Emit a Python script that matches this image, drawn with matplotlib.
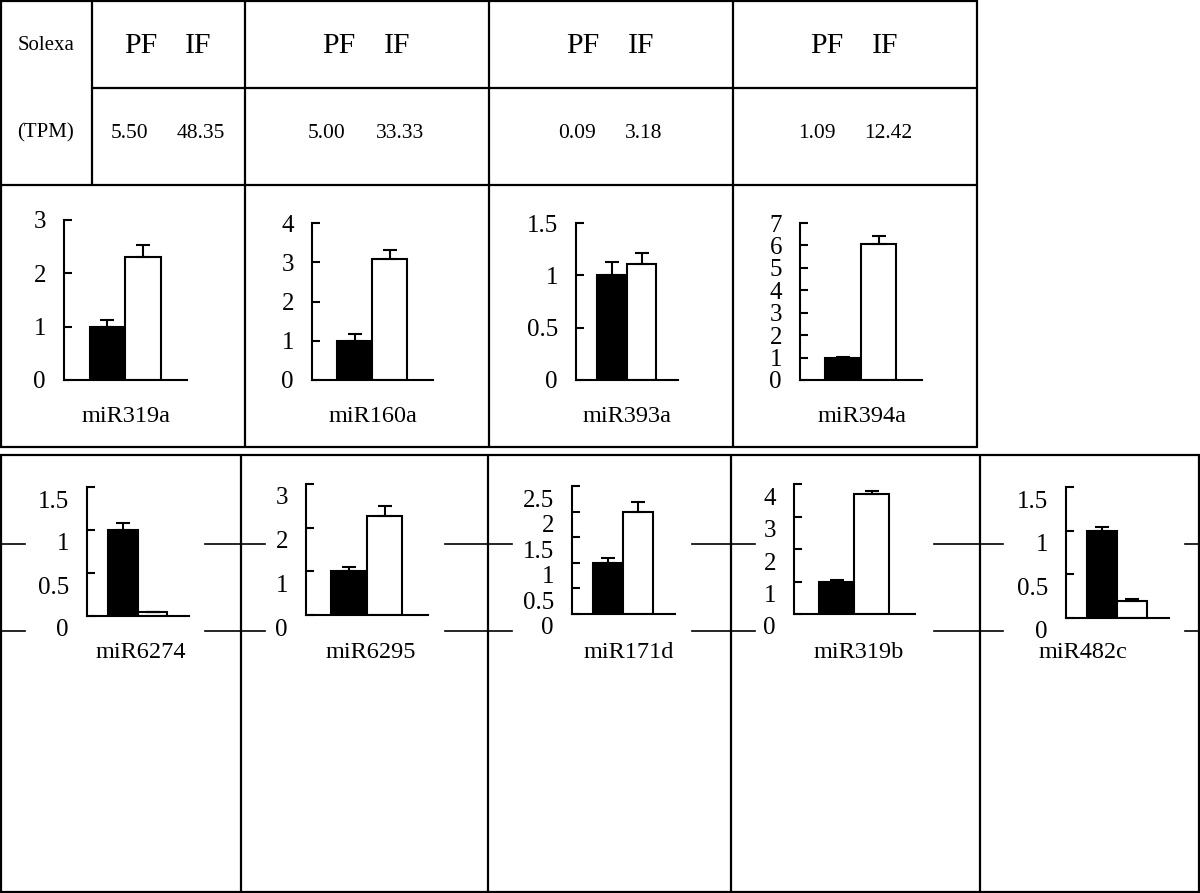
import matplotlib.pyplot as plt
from matplotlib.transforms import ScaledTranslation

plt.rcParams['font.family'] = ['Liberation Serif', 'DejaVu Serif']

# Solexa header (TPM)
tpm_pf = ['5.50', '5.00', '0.09', '1.09']
tpm_if = ['48.35', '33.33', '3.18', '12.42']

# qRT-PCR, top row
top_genes = ['miR319a', 'miR160a', 'miR393a', 'miR394a']
top_pf = [1.0, 1.0, 1.0, 1.0]
top_if = [2.31, 3.08, 1.11, 6.05]
top_pf_err = [0.12, 0.17, 0.13, 0.02]
top_if_err = [0.22, 0.23, 0.10, 0.37]
top_ticks = [[0, 1, 2, 3], [0, 1, 2, 3, 4], [0, 0.5, 1, 1.5],
             [0, 1, 2, 3, 4, 5, 6, 7]]

# qRT-PCR, bottom row
bot_genes = ['miR6274', 'miR6295', 'miR171d', 'miR319b', 'miR482c']
bot_pf = [1.0, 1.0, 1.0, 1.0, 1.0]
bot_if = [0.05, 2.27, 2.0, 3.69, 0.2]
bot_pf_err = [0.08, 0.10, 0.10, 0.05, 0.04]
bot_if_err = [0.0, 0.22, 0.18, 0.10, 0.02]
bot_ticks = [[0, 0.5, 1, 1.5], [0, 1, 2, 3], [0, 0.5, 1, 1.5, 2, 2.5],
             [0, 1, 2, 3, 4], [0, 0.5, 1, 1.5]]

W, H = 1200, 893
fig = plt.figure(figsize=(W / 100, H / 100), dpi=100)

bg = fig.add_axes([0, 0, 1, 1])
bg.set_xlim(0, W)
bg.set_ylim(H, 0)
bg.axis('off')

lw = 1.6
kw = dict(color='black', lw=lw, clip_on=False)

# top table frame
bg.hlines([1, 185, 447], 0, 978, **kw)
bg.hlines(88, 92, 978, **kw)
bg.vlines([1, 245, 489, 733, 977], 0, 447, **kw)
bg.vlines(92, 0, 185, **kw)

# bottom table frame
bg.hlines([455, 892], 0, W, **kw)
bg.vlines([1, 241, 488, 731, 980, 1199], 455, 892, **kw)
for y in [544, 631]:
    for x0, x1 in [(0, 25), (205, 265), (445, 512), (692, 755),
                   (934, 1003), (1185, 1200)]:
        bg.plot([x0, x1], [y, y], color='black', lw=1.2)

# header text
bg.text(46, 46, 'Solexa', fontsize=15, ha='center', va='center')
bg.text(46, 133, '(TPM)', fontsize=15, ha='center', va='center')
pf_x = [141, 339, 583, 827]
if_x = [198, 397, 641, 885]
pfv_x = [129, 327, 577, 817]
ifv_x = [201, 400, 644, 888]
for i in range(4):
    bg.text(pf_x[i], 46, 'PF', fontsize=21.5, ha='center', va='center')
    bg.text(if_x[i], 46, 'IF', fontsize=21.5, ha='center', va='center')
    bg.text(pfv_x[i], 133, tpm_pf[i], fontsize=15.5, ha='center', va='center')
    bg.text(ifv_x[i], 133, tpm_if[i], fontsize=15.5, ha='center', va='center')


def panel(box, pf, iferr, ifv, pferr, ticks, shift=0):
    x0, x1, ytop, y0 = box
    ax = fig.add_axes([x0 / W, 1 - y0 / H, (x1 - x0) / W, (y0 - ytop) / H])
    ax.set_facecolor('none')
    ax.bar([0, 1], [pf, ifv], width=1.0, color=['black', 'white'],
           edgecolor='black', linewidth=1.5)
    ax.errorbar([0, 1], [pf, ifv], yerr=[[0, 0], [pferr, iferr]], fmt='none',
                ecolor='black', elinewidth=1.5, capsize=5, capthick=1.5)
    ax.set_xlim(-1.22, 2.23)
    ax.set_ylim(0, ticks[-1])
    ax.set_yticks(ticks)
    ax.set_yticklabels(['%g' % t for t in ticks])
    ax.set_xticks([])
    for s in ['top', 'right']:
        ax.spines[s].set_visible(False)
    for s in ['left', 'bottom']:
        ax.spines[s].set_linewidth(1.5)
    ax.tick_params(axis='y', direction='in', length=6, width=1.5, pad=13,
                   labelsize=18)
    if shift:
        off = ScaledTranslation(0, -shift / 100, fig.dpi_scale_trans)
        for lab in ax.get_yticklabels():
            lab.set_transform(lab.get_transform() + off)
    return ax


top_boxes = [(64, 187, 220, 380), (312, 433, 223, 380),
             (576, 678, 223, 380), (800, 922, 223, 380)]
top_lab_x = [126, 373, 627, 862]
for i in range(4):
    panel(top_boxes[i], top_pf[i], top_if_err[i], top_if[i], top_pf_err[i],
          top_ticks[i])
    bg.text(top_lab_x[i], 417, top_genes[i], fontsize=17.5, ha='center',
            va='center')

bot_boxes = [(87, 189, 487, 616), (306, 428, 484, 615), (572, 675, 486, 614),
             (794, 915, 484, 614), (1066, 1169, 487, 618)]
bot_lab_x = [141, 371, 629, 859, 1083]
for i in range(5):
    panel(bot_boxes[i], bot_pf[i], bot_if_err[i], bot_if[i], bot_pf_err[i],
          bot_ticks[i], shift=12)
    bg.text(bot_lab_x[i], 653, bot_genes[i], fontsize=17.5, ha='center',
            va='center')

fig.savefig('out.png', dpi=100, facecolor='white')
